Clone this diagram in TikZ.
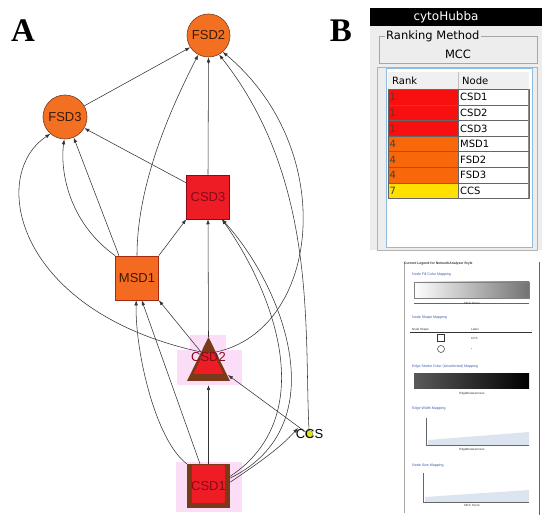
\documentclass[tikz,border=0pt]{standalone}
\usepackage{fontspec}
\setmainfont{Liberation Sans}
\newfontfamily\dejavu{DejaVu Sans}
\newfontfamily\timesf{Liberation Serif}
\usetikzlibrary{arrows.meta}
\definecolor{orng}{HTML}{F37022}
\definecolor{redn}{HTML}{EE1C25}
\definecolor{brwn}{HTML}{7A3A1A}
\definecolor{pinkh}{HTML}{FCDDF8}
\definecolor{ylw}{HTML}{DDE21A}
\definecolor{rkred}{HTML}{F81010}
\definecolor{rkorg}{HTML}{F8680A}
\definecolor{rkyel}{HTML}{FFE000}
\definecolor{panelgray}{HTML}{EDEDED}
\definecolor{blueb}{HTML}{8DBCE0}
\definecolor{legblue}{HTML}{3A5CA8}
\definecolor{areab}{HTML}{DCE5EF}
\definecolor{txtred}{HTML}{8A0A1A}
\definecolor{txtbrn}{HTML}{3D1A05}
\definecolor{edgec}{HTML}{333333}
\begin{document}
\begin{tikzpicture}[x=1pt,y=-1pt,
  edge/.style={draw=edgec, line width=0.55pt, -{Latex[length=5pt,width=3.6pt]}},
  lab/.style={font=\fontsize{13}{13}\selectfont, inner sep=0pt},
  fsd/.style={lab, circle, draw=brwn, line width=0.6pt, fill=orng, minimum size=43pt, text=txtbrn},
  csq/.style={lab, rectangle, minimum width=43pt, minimum height=44pt},
  tbtxt/.style={font=\dejavu\fontsize{10}{10}\selectfont, inner sep=0pt, anchor=west},
  legt/.style={font=\fontsize{3.6}{4}\selectfont, inner sep=0pt, anchor=west, text=legblue},
  legs/.style={font=\fontsize{3}{3.5}\selectfont, inner sep=0pt, text=black!80}]
\useasboundingbox (0,0) rectangle (550,521);
\fill[white] (0,0) rectangle (550,521);

% panel labels
\node[font=\timesf\bfseries\fontsize{33}{33}\selectfont, inner sep=0pt] (labA) at (23,31) {A};
\node[font=\timesf\bfseries\fontsize{33}{33}\selectfont, inner sep=0pt] (labB) at (341,31) {B};

% ---------- network ----------
% halos
\fill[pinkh] (190,335) rectangle (226,352);
\fill[pinkh] (177,350) rectangle (242,385);
\fill[pinkh] (176,462) rectangle (242,512);

\node[fsd] (FSD2) at (208.5,35.5) {FSD2};
\node[fsd, minimum size=44pt] (FSD3) at (65,117) {FSD3};
\node[csq, fill=redn, draw=txtred, line width=0.5pt, text=txtred] (CSD3) at (208,197) {CSD3};
\node[csq, fill=orng!95!red, draw=brwn!70!red, line width=0.6pt, text=txtbrn] (MSD1) at (137,278) {MSD1};

% CSD2 triangle
\fill[brwn] (208.5,337) -- (187,381) -- (230,381) -- cycle;
\begin{scope}
  \clip (208.5,344) -- (192.5,376) -- (224.5,376) -- cycle;
  \fill[redn] (180,353) rectangle (240,374);
\end{scope}
\node[lab, text=txtred] (CSD2) at (208.5,357.5) {CSD2};
\coordinate (CSD2top) at (208.5,337);
\coordinate (CSD2bot) at (208.5,385);
\coordinate (CSD2l) at (201,352);
\coordinate (CSD2r) at (216,352);
\coordinate (CSD2rb) at (228,375);

% CSD1 square
\fill[brwn] (187,464) rectangle (230,508);
\fill[redn] (192,465.5) rectangle (225,503);
\node[csq, text=txtred] (CSD1) at (208.5,486) {CSD1};

% CCS
\node[circle, fill=ylw, draw=ylw!50!black, line width=0.3pt, minimum size=7.5pt, inner sep=0pt] (CCS) at (309,434) {};
\node[lab, text=black] (CCSl) at (309.5,434) {CCS};

% edges
\draw[edge] (FSD3.30) -- (FSD2.213);
\draw[edge] (CSD3.north) -- (FSD2.south);
\draw[edge] (CSD3.147) -- (FSD3.-30);
\draw[edge] (MSD1.north) .. controls (137,180) and (175,100) .. (FSD2.-118);
\draw[edge] (MSD1.129) -- (FSD3.-67);
\draw[edge] (MSD1.north west) .. controls (68,222) and (60,170) .. (FSD3.-92);
\draw[edge] (MSD1.north east) -- (CSD3.south west);
\draw[edge] (CSD2l) -- (MSD1.south east);
\draw[edge] (CSD2top) -- (CSD3.south);
\draw[edge] (CSD1.north) -- (CSD2bot);
\draw[edge] (CSD1.111) -- (MSD1.-78);
\draw[edge] (CSD1.north west) .. controls (155,440) and (135,350) .. (MSD1.-92);
\draw[edge] (CSD2l) .. controls (15,312) and (-12,175) .. (FSD3.-131);
\draw[edge] (CSD2r) .. controls (320,330) and (340,150) .. (FSD2.-49);
\draw[edge] (CCS.north) .. controls (304,330) and (318,180) .. (FSD2.-61);
\draw[edge] (CSD1.20) .. controls (338,425) and (282,285) .. (CSD3.-58);
\draw[edge] (CSD1.24) .. controls (322,415) and (272,290) .. (CSD3.-58);
\draw[edge] (CSD1.10) .. controls (260,462) and (280,448) .. ([xshift=-11pt,yshift=6pt]CCS.center);
\draw[edge] (CCS.150) -- (CSD2rb);

% ---------- cytoHubba panel ----------
\fill[panelgray] (370,26) rectangle (542,250);
\fill[black] (370,8) rectangle (542,26);
\node[font=\dejavu\fontsize{12}{12}\selectfont, text=white, inner sep=0pt] (hdr) at (446,17) {cytoHubba};
\draw[black!35, line width=0.6pt] (379,36) rectangle (537,63);
\node[font=\dejavu\fontsize{11.5}{11.5}\selectfont, fill=panelgray, inner sep=1pt, anchor=west] (rm) at (385,36.5) {Ranking Method};
\node[font=\dejavu\fontsize{11.5}{11.5}\selectfont, inner sep=0pt] (mcc) at (458,54) {MCC};
\draw[black!30, line width=0.6pt] (377,67) rectangle (537,250);
\draw[blueb, fill=white, line width=1pt] (386,69) rectangle (532,248);
\fill[black!6] (388,72) rectangle (529,89.3);
\draw[black!25, line width=0.4pt] (458,72) -- (458,89.3);
\node[tbtxt] (hrank) at (392,80.5) {Rank};
\node[tbtxt] (hnode) at (462,80.5) {Node};
\foreach \rk/\nm/\col [count=\i from 0] in {1/CSD1/rkred,1/CSD2/rkred,1/CSD3/rkred,4/MSD1/rkorg,4/FSD2/rkorg,4/FSD3/rkorg,7/CCS/rkyel}{
  \pgfmathsetmacro{\yy}{89.3+15.6*\i}
  \fill[\col] (388,\yy) rectangle (458,\yy+15.6);
  \draw[black!60, line width=0.5pt] (388,\yy) rectangle (458,\yy+15.6);
  \draw[black!60, line width=0.5pt] (458,\yy) rectangle (529,\yy+15.6);
  \draw[black!45, line width=1pt] (528.5,\yy) -- (528.5,\yy+15.6);
  \node[tbtxt, text=black!75] (rk\i) at (389.5,\yy+8) {\rk};
  \node[tbtxt] (nm\i) at (460,\yy+8) {\nm};
}

% ---------- legend ----------
\draw[black!35, line width=0.5pt] (404,262) -- (404,513);
\draw[black!60, line width=0.7pt] (539,262) -- (539,515);
\node[legs, anchor=west, font=\bfseries\fontsize{3.4}{4}\selectfont] (lg0) at (404,263.5) {Current Legend for NetworkAnalyzer Style};
\node[legt] (lg1) at (412,275) {Node Fill Color Mapping};
\shade[left color=white, right color=black!55] (414,282) rectangle (529,298);
\draw[black!50, line width=0.3pt] (414,282) rectangle (529,298);
\draw[black!60, line width=0.4pt] (414,303) -- (529,303);
\node[legs] (lg1a) at (472,303) {MCC Score};
\node[legt] (lg2) at (412,318) {Node Shape Mapping};
\draw[black!80, line width=0.5pt] (410,332) -- (532,332);
\node[legs, anchor=west] (lg2a) at (412,329.5) {Node Shape};
\node[legs, anchor=west] (lg2b) at (471,329.5) {Label};
\draw[black!80, line width=0.5pt] (437.5,334.5) rectangle (444.5,341.5);
\draw[black!80, line width=0.5pt] (441,349) circle (3.5);
\node[legs, anchor=west] (lg2c) at (471,338) {CCS};
\node[legs, anchor=west] (lg2d) at (471,349) {*};
\node[legt] (lg3) at (412,367) {Edge Stroke Color (Unselected) Mapping};
\shade[left color=black!65, right color=black] (414,374) rectangle (529,389);
\node[legs] (lg3a) at (472,394) {EdgeBetweenness};
\node[legt] (lg4) at (412,409) {Edge Width Mapping};
\fill[areab] (428,440) -- (529,432) -- (529,445) -- (428,445) -- cycle;
\draw[black!60, line width=0.4pt] (426,418) -- (426,445) -- (529,445);
\node[legs] (lg4a) at (472,449.5) {EdgeBetweenness};
\node[legt] (lg5) at (412,466) {Node Size Mapping};
\fill[areab] (425,497) -- (529,490) -- (529,502) -- (425,502) -- cycle;
\draw[black!60, line width=0.4pt] (423,473) -- (423,502) -- (529,502);
\node[legs] (lg5a) at (472,505.5) {MCC Score};
\end{tikzpicture}
\end{document}
